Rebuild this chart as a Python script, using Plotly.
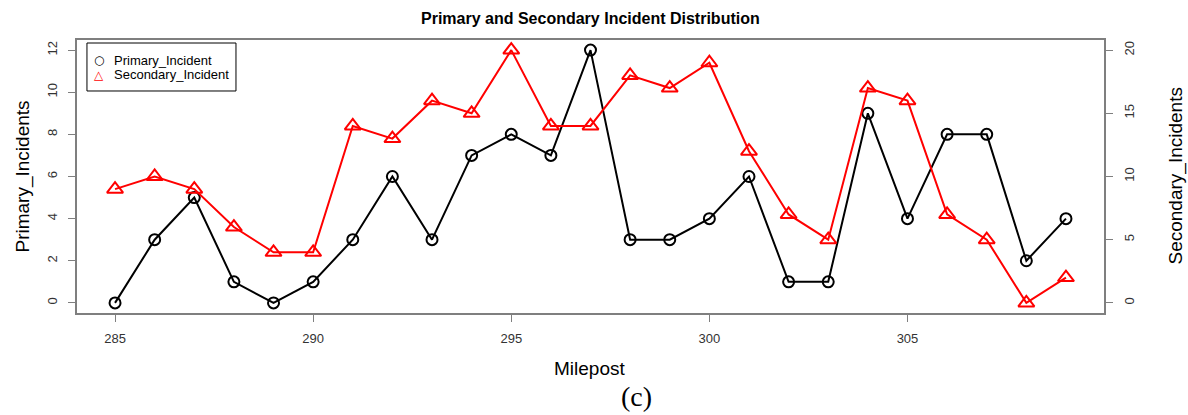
import plotly.graph_objects as go

# Milepost positions and incident counts
mileposts = list(range(285, 310))
primary_incidents = [0, 3, 5, 1, 0, 1, 3, 6, 3, 7, 8, 7, 12, 3, 3, 4, 6, 1, 1, 9, 4, 8, 8, 2, 4]
secondary_incidents = [9, 10, 9, 6, 4, 4, 14, 13, 16, 15, 20, 14, 14, 18, 17, 19, 12, 7, 5, 17, 16, 7, 5, 0, 2]

x_ticks = [285, 290, 295, 300, 305]
y1_ticks = [0, 2, 4, 6, 8, 10, 12]
y2_ticks = [0, 5, 10, 15, 20]

AXIS_GREY = "#7f7f7f"
TEXT_GREY = "#333333"
SANS = "Liberation Sans, Arial"

fig = go.Figure()

fig.add_trace(go.Scatter(
    x=mileposts, y=primary_incidents, mode="lines+markers", name="Primary_Incident",
    line=dict(color="black", width=2),
    marker=dict(symbol="circle-open", size=11, color="black", line=dict(width=2)),
    yaxis="y",
))
fig.add_trace(go.Scatter(
    x=mileposts, y=secondary_incidents, mode="lines+markers", name="Secondary_Incident",
    line=dict(color="red", width=2),
    marker=dict(symbol="triangle-up-open", size=14, color="red", line=dict(width=2)),
    yaxis="y2",
))

axis_font = dict(family=SANS, size=13, color=TEXT_GREY)

fig.update_layout(
    width=1188, height=415,
    margin=dict(l=77, r=84, t=40, b=102),
    paper_bgcolor="white", plot_bgcolor="white",
    showlegend=False,
    xaxis=dict(
        range=[284.04, 309.96], tickvals=x_ticks, ticks="outside", ticklen=7,
        tickcolor=AXIS_GREY, showline=True, linecolor=AXIS_GREY, linewidth=1.5,
        mirror=True, showgrid=False, zeroline=False, tickfont=axis_font,
        ticklabelstandoff=6,
    ),
    yaxis=dict(
        range=[-0.48, 12.48], tickvals=y1_ticks, ticks="outside", ticklen=7,
        tickcolor=AXIS_GREY, showline=True, linecolor=AXIS_GREY, linewidth=1.5,
        mirror=True, showgrid=False, zeroline=False, tickfont=axis_font,
        tickangle=-90, ticklabelstandoff=6,
    ),
    yaxis2=dict(
        range=[-0.8, 20.8], tickvals=y2_ticks, ticks="outside", ticklen=7,
        tickcolor=AXIS_GREY, overlaying="y", side="right", showline=True,
        linecolor=AXIS_GREY, linewidth=1.5, showgrid=False, zeroline=False,
        tickfont=axis_font, tickangle=-90, ticklabelstandoff=6,
    ),
)

# legend box drawn in paper coordinates
fig.add_shape(type="rect", xref="paper", yref="paper",
              x0=0.0097, x1=0.1548, y0=0.8132, y1=0.989,
              line=dict(color="black", width=1), fillcolor="white", layer="above")
legend_rows = [("○", "black", "Primary_Incident", 0.9267),
               ("△", "red", "Secondary_Incident", 0.8718)]
for sym, col, label, ly in legend_rows:
    fig.add_annotation(text=sym, xref="paper", yref="paper", x=0.0214, y=ly,
                       xanchor="center", yanchor="middle", showarrow=False,
                       font=dict(family="DejaVu Sans", size=12, color=col))
    fig.add_annotation(text=label, xref="paper", yref="paper", x=0.0341, y=ly,
                       xanchor="left", yanchor="middle", showarrow=False,
                       font=dict(family=SANS, size=13, color="black"))

label_font = dict(family=SANS, size=19, color="black")
fig.add_annotation(text="<b>Primary and Secondary Incident Distribution</b>",
                   xref="paper", yref="paper", x=0.5, y=(313 - 18) / 273,
                   xanchor="center", yanchor="middle", showarrow=False,
                   font=dict(family=SANS, size=16, color="black"))
fig.add_annotation(text="Milepost", xref="paper", yref="paper", x=0.4995, y=(313 - 368) / 273,
                   xanchor="center", yanchor="middle", showarrow=False, font=label_font)
fig.add_annotation(text="Primary_Incidents", xref="paper", yref="paper",
                   x=(22 - 77) / 1027, y=0.50, xanchor="center", yanchor="middle",
                   textangle=-90, showarrow=False, font=label_font)
fig.add_annotation(text="Secondary_Incidents", xref="paper", yref="paper",
                   x=(1175 - 77) / 1027, y=0.50, xanchor="center", yanchor="middle",
                   textangle=-90, showarrow=False, font=label_font)
fig.add_annotation(text="(c)", xref="paper", yref="paper", x=(636 - 77) / 1027, y=(313 - 396) / 273,
                   xanchor="center", yanchor="middle", showarrow=False,
                   font=dict(family="Liberation Serif, Times New Roman", size=28, color="black"))

fig.write_html("out.html")
